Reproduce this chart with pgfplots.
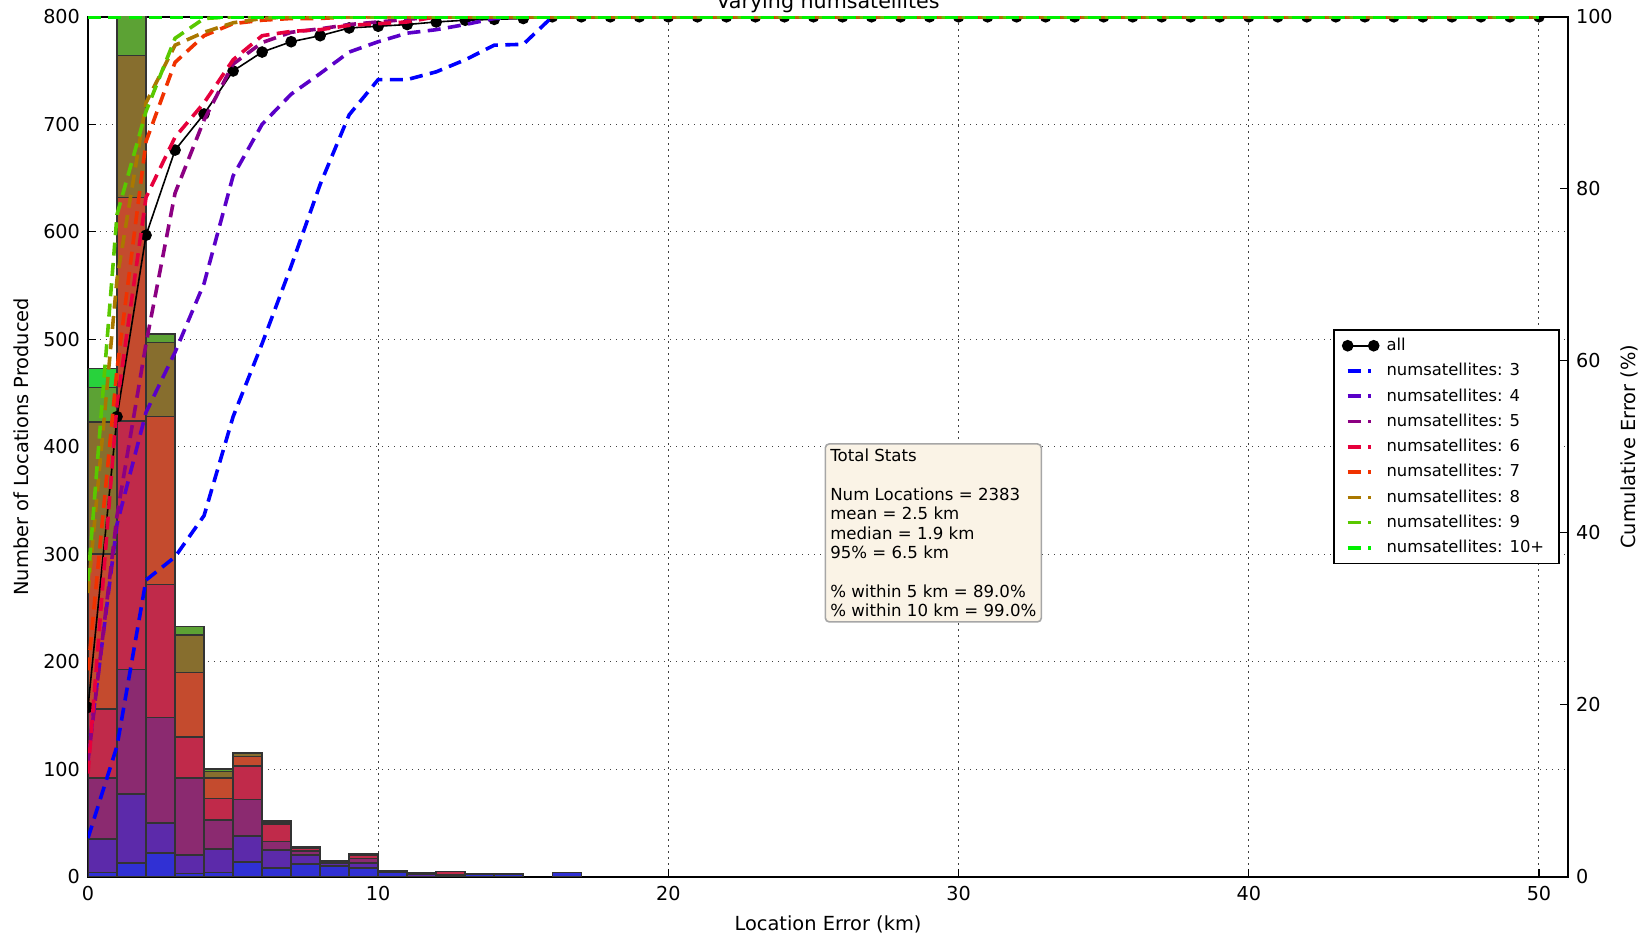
\documentclass[border=0pt]{standalone}
\usepackage{pgfplots}
\pgfplotsset{compat=1.18}
\usepackage{fontspec}
\setmainfont{DejaVu Sans}

% bar fills
\definecolor{f3}{RGB}{48,48,212}
\definecolor{f4}{RGB}{92,42,170}
\definecolor{f5}{RGB}{139,42,112}
\definecolor{f6}{RGB}{192,42,74}
\definecolor{f7}{RGB}{196,75,46}
\definecolor{f8}{RGB}{135,110,46}
\definecolor{f9}{RGB}{92,162,52}
\definecolor{f10}{RGB}{40,210,60}
% line colours
\definecolor{l3}{RGB}{0,0,255}
\definecolor{l4}{RGB}{90,0,200}
\definecolor{l5}{RGB}{140,0,130}
\definecolor{l6}{RGB}{230,0,60}
\definecolor{l7}{RGB}{240,50,0}
\definecolor{l8}{RGB}{170,120,0}
\definecolor{l9}{RGB}{90,200,0}
\definecolor{l10}{RGB}{0,240,0}
\definecolor{statbg}{RGB}{250,243,230}

\pgfplotsset{
  barseg/.style={draw=black!80, line width=0.8pt},
  cum/.style={line width=1.8pt, dash pattern=on 6.5pt off 3.7pt},
}

\begin{document}
\begin{tikzpicture}
\begin{axis}[
  at={(0,0)}, anchor=south west,
  scale only axis, width=740pt, height=430pt,
  xmin=0, xmax=51, ymin=0, ymax=800,
  xtick={0,10,...,50}, ytick={0,100,...,800},
  xtick pos=bottom, ytick pos=left,
  tick align=inside, major tick length=4pt,
  grid=major,
  grid style={black!75, line width=0.5pt, dash pattern=on 0.7pt off 2.3pt},
  axis line style={black, line width=0.8pt},
  tick style={black, line width=0.6pt},
  ybar stacked, bar width=1,
  tick label style={font=\fontsize{9.6}{11}\selectfont},
  /pgf/number format/assume math mode=true,
  xticklabel style={yshift=-1pt},
  yticklabel style={xshift=-0.5pt},
]
\addplot[fill=f3, barseg] coordinates {(0.5,4) (1.5,13) (2.5,22) (3.5,3) (4.5,4) (5.5,14) (6.5,8) (7.5,12) (8.5,10) (9.5,8) (10.5,4) (11.5,0) (12.5,1) (13.5,2) (14.5,2) (15.5,0) (16.5,4)};
\addplot[fill=f4, barseg] coordinates {(0.5,31) (1.5,64) (2.5,28) (3.5,17) (4.5,22) (5.5,24) (6.5,17) (7.5,8) (8.5,3) (9.5,5) (10.5,1) (11.5,2) (12.5,0) (13.5,1) (14.5,1) (15.5,0) (16.5,0)};
\addplot[fill=f5, barseg] coordinates {(0.5,57) (1.5,116) (2.5,98) (3.5,72) (4.5,27) (5.5,34) (6.5,8) (7.5,4) (8.5,1) (9.5,4) (10.5,1) (11.5,1) (12.5,1) (13.5,0) (14.5,0) (15.5,0) (16.5,0)};
\addplot[fill=f6, barseg] coordinates {(0.5,64) (1.5,231) (2.5,124) (3.5,38) (4.5,20) (5.5,31) (6.5,16) (7.5,3) (8.5,1) (9.5,3) (10.5,0) (11.5,1) (12.5,3) (13.5,0) (14.5,0) (15.5,0) (16.5,0)};
\addplot[fill=f7, barseg] coordinates {(0.5,144) (1.5,208) (2.5,156) (3.5,60) (4.5,19) (5.5,9) (6.5,2) (7.5,1) (8.5,0) (9.5,1) (10.5,0) (11.5,0) (12.5,0) (13.5,0) (14.5,0) (15.5,0) (16.5,0)};
\addplot[fill=f8, barseg] coordinates {(0.5,123) (1.5,132) (2.5,69) (3.5,35) (4.5,6) (5.5,3) (6.5,1) (7.5,0) (8.5,0) (9.5,0)};
\addplot[fill=f9, barseg] coordinates {(0.5,32) (1.5,53) (2.5,8) (3.5,8) (4.5,2) (5.5,0)};
\addplot[fill=f10, barseg] coordinates {(0.5,18) (1.5,0) (2.5,0) (3.5,0)};
\end{axis}

\begin{axis}[
  at={(0,0)}, anchor=south west,
  scale only axis, width=740pt, height=430pt,
  xmin=0, xmax=51, ymin=0, ymax=100,
  axis x line=none, axis y line*=right,
  ytick={0,20,...,100},
  tick align=inside, major tick length=4pt,
  axis line style={black, line width=0.8pt},
  tick style={black, line width=0.6pt},
  tick label style={font=\fontsize{9.6}{11}\selectfont},
  /pgf/number format/assume math mode=true,
  yticklabel style={xshift=0.5pt},
  clip marker paths=true,
  legend cell align=left,
  legend image code/.code={\draw[#1] (0pt,0pt) -- (11.5pt,0pt);},
  legend style={at={(0.9946,0.5)}, anchor=east, draw=black, line width=0.8pt,
    font=\fontsize{8.2}{9.5}\selectfont, fill=white,
    inner xsep=4pt, inner ysep=2pt, row sep=0.9pt,
    nodes={inner xsep=3.5pt}},
]
\addplot[black, line width=0.8pt, mark=*, mark size=2.5pt, mark options={solid},
  legend image code/.code={\draw[black,line width=0.8pt] (0pt,0pt) -- (13pt,0pt); \fill[black] (0pt,0pt) circle (2.5pt) (13pt,0pt) circle (2.5pt);}]
 coordinates {(0,19.7) (1,53.5) (2,74.6) (3,84.5) (4,88.7) (5,93.7) (6,95.9) (7,97.1) (8,97.8) (9,98.7) (10,98.9) (11,99.1) (12,99.4) (13,99.6) (14,99.7) (15,99.8) (16,100) (17,100) (18,100) (19,100) (20,100) (21,100) (22,100) (23,100) (24,100) (25,100) (26,100) (27,100) (28,100) (29,100) (30,100) (31,100) (32,100) (33,100) (34,100) (35,100) (36,100) (37,100) (38,100) (39,100) (40,100) (41,100) (42,100) (43,100) (44,100) (45,100) (46,100) (47,100) (48,100) (49,100) (50,100)};
\addlegendentry{all}
\addplot[l3, cum] coordinates {(0,4.5) (1,15.2) (2,34.5) (3,37.2) (4,42.0) (5,53.5) (6,62.0) (7,71.0) (8,80.5) (9,88.6) (10,92.7) (11,92.7) (12,93.6) (13,95.0) (14,96.7) (15,96.8) (16,100) (50,100)};
\addlegendentry{numsatellites: 3}
\addplot[l4, cum] coordinates {(0,14) (1,41) (2,54) (3,61) (4,69) (5,81.5) (6,87.5) (7,91) (8,93.4) (9,95.9) (10,97.1) (11,98.1) (12,98.5) (13,99.1) (14,99.8) (15,100) (50,100)};
\addlegendentry{numsatellites: 4}
\addplot[l5, cum] coordinates {(0,13.4) (1,42) (2,62) (3,79.5) (4,88) (5,94.5) (6,97) (7,98.2) (8,98.6) (9,99.1) (10,99.4) (11,99.7) (12,100) (50,100)};
\addlegendentry{numsatellites: 5}
\addplot[l6, cum] coordinates {(0,12) (1,55) (2,79) (3,86) (4,90) (5,95) (6,97.8) (7,98.3) (8,98.5) (9,99) (10,99.2) (11,99.4) (12,100) (50,100)};
\addlegendentry{numsatellites: 6}
\addplot[l7, cum] coordinates {(0,24) (1,59) (2,85.5) (3,94.7) (4,97.8) (5,99.2) (6,99.6) (7,99.8) (8,99.8) (9,100) (50,100)};
\addlegendentry{numsatellites: 7}
\addplot[l8, cum] coordinates {(0,33) (1,69.5) (2,90) (3,96.7) (4,98.2) (5,99.3) (6,99.8) (7,100) (50,100)};
\addlegendentry{numsatellites: 8}
\addplot[l9, cum] coordinates {(0,34.4) (1,77) (2,89) (3,97.5) (4,99.8) (5,100) (50,100)};
\addlegendentry{numsatellites: 9}
\addplot[l10, cum] coordinates {(0,100) (1,100) (2,100) (50,100)};
\addlegendentry{numsatellites: 10+}

\node[anchor=north west, draw=black!35, line width=0.8pt, fill=statbg, rounded corners=2pt,
  align=left, font=\fontsize{8.3}{9.7}\selectfont, inner xsep=2.5pt, inner ysep=2.5pt]
  at (axis cs:25.38,50.43)
  {Total Stats\\[9.7pt]Num Locations = 2383\\mean = 2.5 km\\median = 1.9 km\\95\% = 6.5 km\\[9.7pt]\% within 5 km = 89.0\%\\\% within 10 km = 99.0\%};
\end{axis}

\node[anchor=base, font=\fontsize{10.3}{12}\selectfont] at (370pt,434.2pt) {Varying numsatellites};
\node[font=\fontsize{9.7}{11}\selectfont] at (370pt,-23.7pt) {Location Error (km)};
\node[rotate=90, font=\fontsize{9.7}{11}\selectfont] at (-33.5pt,215pt) {Number of Locations Produced};
\node[rotate=90, font=\fontsize{9.7}{11}\selectfont] at (770.5pt,215pt) {Cumulative Error (\%)};

\pgfresetboundingbox
\path[use as bounding box] (-44pt,-29.2pt) rectangle (781pt,438.4pt);
\end{tikzpicture}
\end{document}
